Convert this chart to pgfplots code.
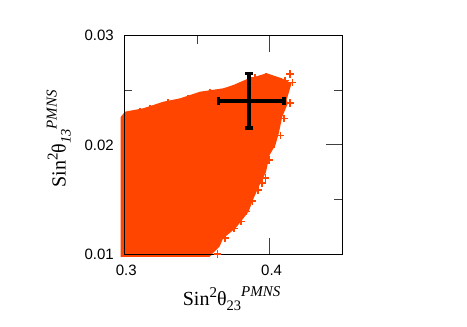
\documentclass[border=0pt]{standalone}
\usepackage{fontspec}
\usepackage{pgfplots}
\pgfplotsset{compat=1.18}
\setmainfont{Liberation Serif}
\newfontfamily\tickfont{Liberation Sans}
\definecolor{scan}{HTML}{FF4500}
\newcommand\lab[3]{\raisebox{#1}{\fontsize{#2}{#2}\selectfont #3}}
\newcommand\mainsz{\fontsize{20}{20}\selectfont}
\begin{document}
\begin{tikzpicture}[x=1pt,y=1pt]
\path[use as bounding box] (0,0) rectangle (467,327);
\begin{axis}[
    at={(124.3pt,73pt)},
    anchor=south west,
    scale only axis,
    width=218pt,
    height=218.3pt,
    xmin=0.3, xmax=0.45,
    ymin=0.01, ymax=0.03,
    xtick={0.3,0.4},
    ytick={0.01,0.02,0.03},
    minor x tick num=1,
    minor y tick num=1,
    tick align=inside,
    major tick length=16pt,
    minor tick length=8pt,
    axis line style={line width=0.9pt},
    tick style={line width=0.7pt,color=black!75},
    clip=false,
    scaled ticks=false,
    xticklabel style={/pgf/number format/fixed,/pgf/number format/precision=2,yshift=-7pt,xshift=2pt},
    yticklabel style={/pgf/number format/fixed,/pgf/number format/precision=2,xshift=-7pt},
    /pgf/number format/assume math mode=true,
    tick label style={font=\tickfont\fontsize{15}{15}\selectfont},
    xlabel={\mainsz Sin\lab{8pt}{15}{2}θ\lab{-5pt}{14.5}{23}\lab{9pt}{15}{\itshape PMNS}},
    ylabel={\mainsz Sin\lab{8pt}{15}{2}θ\lab{-5pt}{14.5}{\itshape 13}\lab{9pt}{15}{\itshape PMNS}},
    xlabel style={at={(axis description cs:0,0)},anchor=north west,yshift=-29pt,xshift=55pt},
    ylabel style={at={(axis description cs:0,0.5)},anchor=south,yshift=50pt,xshift=6pt},
]
% region of allowed points
\addplot[draw=none,fill=scan,forget plot] coordinates {
    (0.2975,0.00973) (0.3585,0.00973) (0.3655,0.01067) (0.3680,0.01144)
    (0.3765,0.01235) (0.3810,0.01311) (0.3855,0.01388) (0.3890,0.01510)
    (0.3925,0.01617) (0.3975,0.01751) (0.4000,0.01907) (0.4040,0.01999)
    (0.4063,0.02106) (0.4087,0.02258) (0.4126,0.02381) (0.4117,0.02411)
    (0.4151,0.02564) (0.4083,0.02610) (0.3979,0.02656) (0.3842,0.02601)
    (0.3750,0.02548) (0.3681,0.02518) (0.3521,0.02487) (0.3383,0.02426)
    (0.3268,0.02395) (0.3131,0.02335) (0.3005,0.02304) (0.2975,0.02255)
} -- cycle;
% scattered points on the edge
\addplot[only marks,mark=+,mark size=3.8pt,color=scan,mark options={line width=1.6pt}] coordinates {
    (0.4139,0.02649) (0.4158,0.02573) (0.4140,0.02381) (0.4098,0.02243)
    (0.4076,0.02084) (0.4014,0.01980) (0.3995,0.01861) (0.3972,0.01694)
    (0.3883,0.01486) (0.3837,0.01388) (0.3801,0.01296) (0.3754,0.01235)
    (0.3624,0.01073) (0.3299,0.02385) (0.3975,0.02625) (0.4105,0.02590)
    (0.3899,0.02615) (0.3108,0.02305) (0.3177,0.02330) (0.3438,0.02420)
    (0.3589,0.02480) (0.3919,0.01586) (0.3947,0.01650) (0.3692,0.01147)
    (0.3589,0.01037) (0.3700,0.01210) (0.3640,0.01000) (0.3830,0.01470)
};
% left and bottom frame stay visible over the points
\addplot[black,line width=0.9pt,forget plot] coordinates {(0.3,0.03) (0.3,0.01) (0.45,0.01)};
% measured value
\addplot[only marks,mark=none,black,
    error bars/.cd,
    x dir=both,y dir=both,x explicit,y explicit,
    error bar style={line width=3.6pt},
    error mark options={rotate=90,mark size=4pt,line width=3.6pt},
] coordinates {(0.386,0.02404) += (0.024,0.0025) -= (0.0213,0.0025)};
\end{axis}
\end{tikzpicture}
\end{document}
